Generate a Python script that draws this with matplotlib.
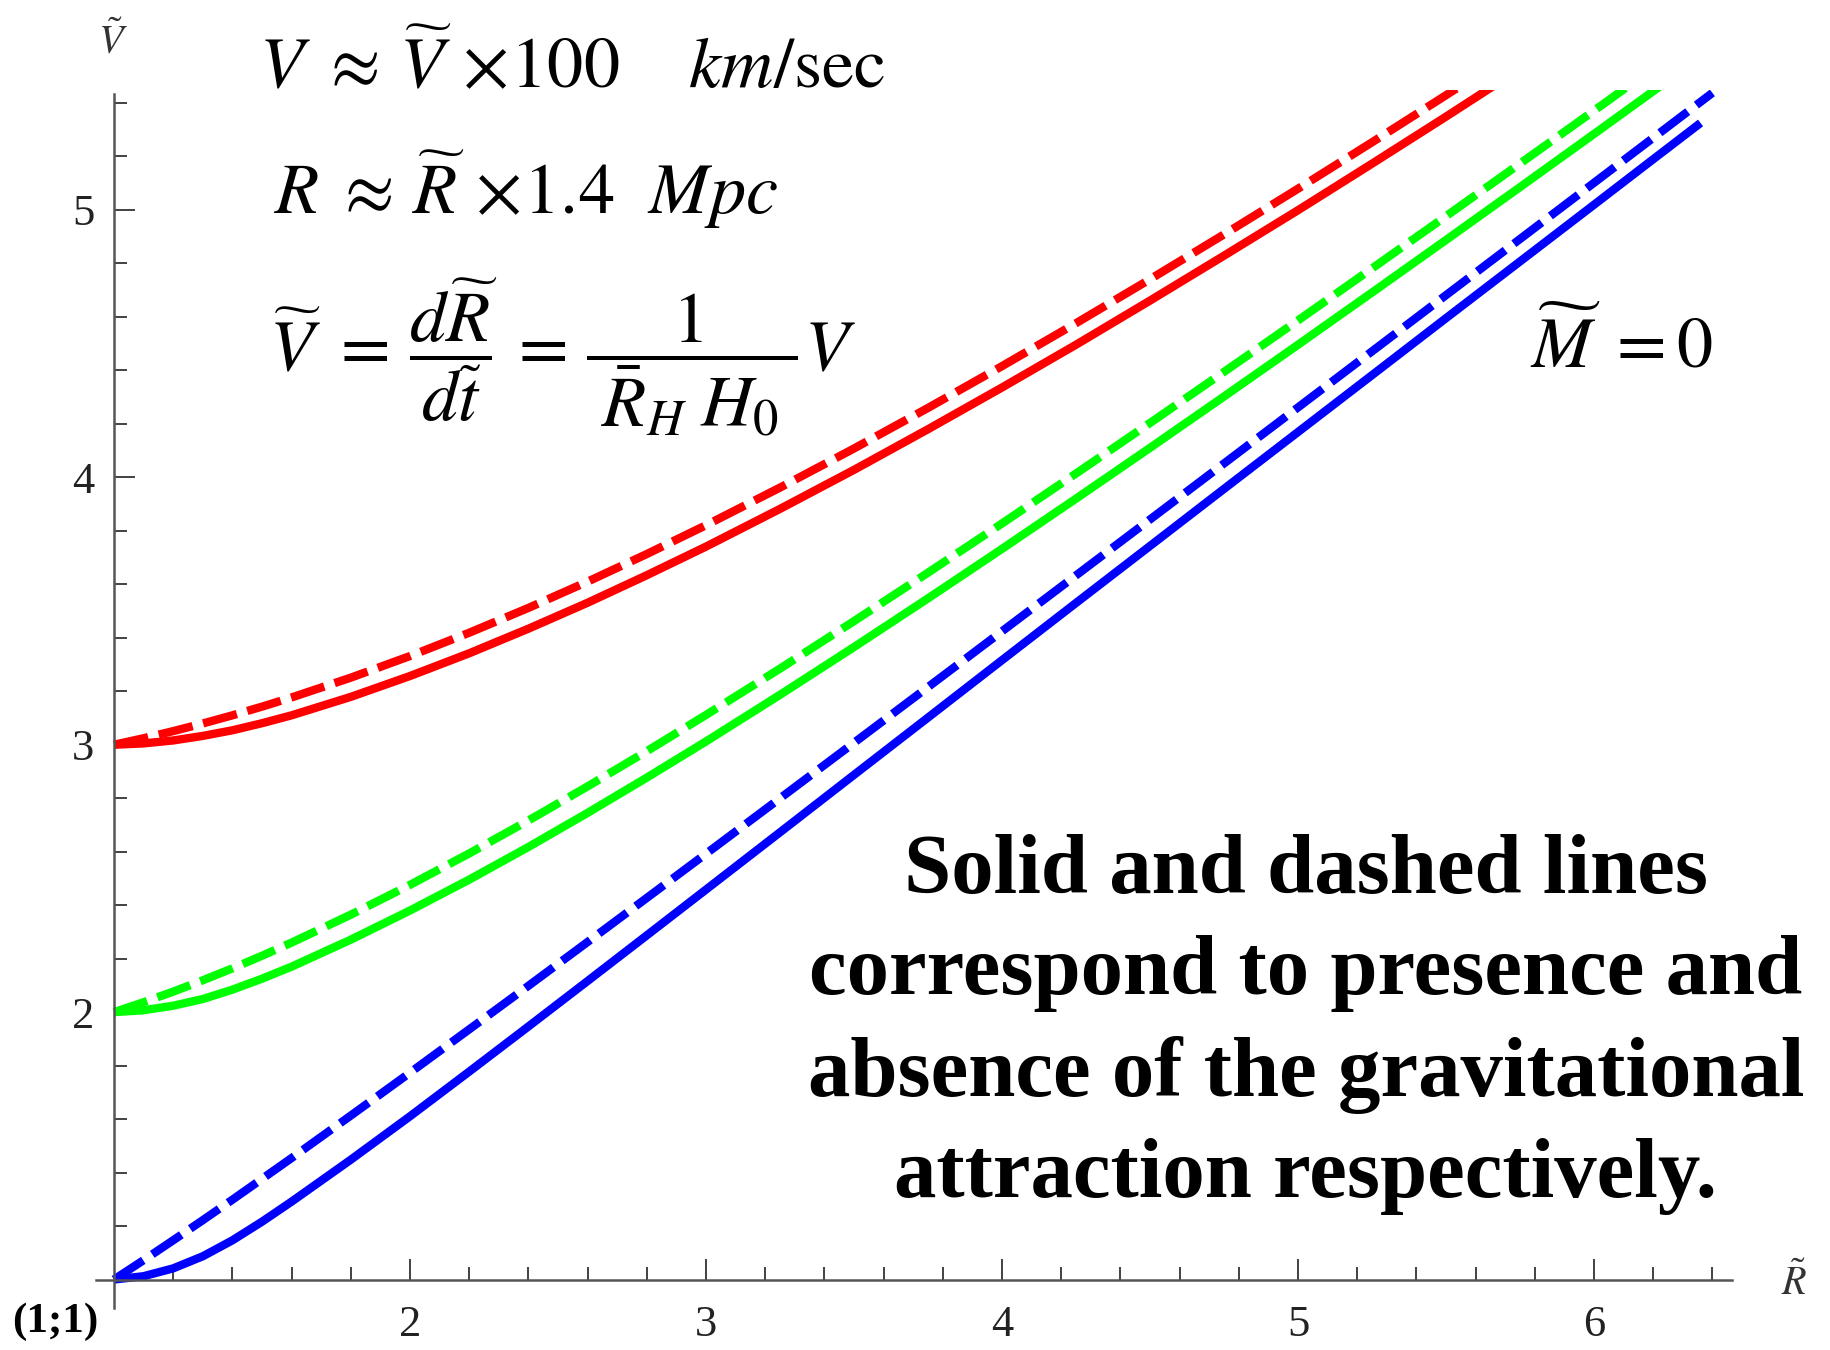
"""
V(R) curves, solid = with gravity, dashed = without
"""
import matplotlib
matplotlib.use("Agg")
import matplotlib.pyplot as plt
from matplotlib.ticker import FixedLocator

plt.rcParams['font.family'] = ['Liberation Serif', 'DejaVu Serif']
plt.rcParams['mathtext.fontset'] = 'stix'

# ========== data ==========
R = [1.0, 1.1, 1.2, 1.3, 1.4, 1.5, 1.6, 1.8, 2.0, 2.2, 2.4, 2.6, 2.8, 3.0,
     3.25, 3.5, 3.75, 4.0, 4.25, 4.5, 4.75, 5.0, 5.25, 5.5, 5.75, 6.0, 6.2, 6.4]
R_BLUE_SOLID = R[:-1] + [6.36]   # blue solid line stops a little earlier

red_solid = [3.0, 3.005, 3.016, 3.033, 3.054, 3.0805, 3.11, 3.179, 3.257, 3.342,
             3.434, 3.531, 3.634, 3.741, 3.882, 4.028, 4.18, 4.336, 4.496, 4.661,
             4.829, 4.999, 5.173, 5.349, 5.528, 5.708, 5.854, 6.0]
red_dashed = [3.0, 3.0244, 3.0509, 3.0795, 3.11, 3.1425, 3.1768, 3.2509, 3.3317, 3.4188,
              3.5117, 3.61, 3.7132, 3.821, 3.9616, 4.1079, 4.2596, 4.4159, 4.5764, 4.7408,
              4.9085, 5.0794, 5.253, 5.4291, 5.6075, 5.7879, 5.934, 6.08]
green_solid = [2.0, 2.007, 2.024, 2.049, 2.084, 2.125, 2.17, 2.271, 2.38, 2.4955,
               2.6176, 2.7452, 2.877, 3.0123, 3.1867, 3.3653, 3.5474, 3.7325, 3.9203, 4.1103,
               4.3023, 4.4959, 4.6912, 4.8877, 5.0854, 5.2842, 5.4441, 5.6046]
green_dashed = [2.0, 2.0369, 2.0766, 2.119, 2.1637, 2.2108, 2.26, 2.3644, 2.4759, 2.5935,
                2.7166, 2.8442, 2.976, 3.1113, 3.2847, 3.4623, 3.6434, 3.8275, 4.0143, 4.2033,
                4.3943, 4.5869, 4.7812, 4.9767, 5.1734, 5.3712, 5.5301, 5.6896]
blue_solid = [1.0, 1.0124, 1.0417, 1.0869, 1.1465, 1.2162, 1.2913, 1.4481, 1.6104, 1.7775,
              1.9463, 2.1163, 2.2871, 2.4583, 2.6725, 2.8873, 3.1016, 3.3162, 3.5302, 3.7434,
              3.9568, 4.1695, 4.3822, 4.5953, 4.8073, 5.0195, 5.1897, 5.3254]
blue_dashed = [1.0, 1.0724, 1.1467, 1.2219, 1.2985, 1.3762, 1.4543, 1.6131, 1.7734, 1.9355,
               2.0983, 2.2623, 2.4271, 2.5923, 2.7995, 3.0073, 3.2156, 3.4242, 3.6332, 3.8424,
               4.0518, 4.2615, 4.4712, 4.6813, 4.8913, 5.1015, 5.2697, 5.4379]

x_major = [2, 3, 4, 5, 6]
y_major = [2, 3, 4, 5]
x_minor = [round(1.2 + 0.2 * i, 1) for i in range(27)]
y_minor = [round(1.2 + 0.2 * i, 1) for i in range(22)]

notes = [
    'Solid and dashed lines',
    'correspond to presence and',
    'absence of the gravitational',
    'attraction respectively.',
]

# ========== figure ==========
W, H = 1831, 1350
fig = plt.figure(figsize=(W / 100, H / 100), dpi=100)
ax = fig.add_axes([0, 0, 1, 0.9336])
ax.set_xlim(0.6149, 6.8007)
ax.set_ylim(0.7364, 5.45)

lw = 6.0
dash = (4.2, 1.3)
curves = [
    (R, red_solid, '#ff0000', None),
    (R, red_dashed, '#ff0000', dash),
    (R, green_solid, '#00ff00', None),
    (R, green_dashed, '#00ff00', dash),
    (R_BLUE_SOLID, blue_solid, '#0000ff', None),
    (R, blue_dashed, '#0000ff', dash),
]
for xs, ys, c, d in curves:
    if d is None:
        ax.plot(xs, ys, color=c, lw=lw, solid_capstyle='butt', solid_joinstyle='round')
    else:
        ax.plot(xs, ys, color=c, lw=lw, dashes=d, dash_joinstyle='round')

# ========== axes crossing at (1;1) ==========
for s in ['top', 'right']:
    ax.spines[s].set_visible(False)
ax.spines['left'].set_position(('data', 1))
ax.spines['bottom'].set_position(('data', 1))
ax.spines['left'].set_bounds(0.893, 5.435)
ax.spines['bottom'].set_bounds(0.938, 6.466)
for s in ['left', 'bottom']:
    ax.spines[s].set_color('#555555')
    ax.spines[s].set_linewidth(1.8)

ax.xaxis.set_major_locator(FixedLocator(x_major))
ax.xaxis.set_minor_locator(FixedLocator([v for v in x_minor if v not in x_major]))
ax.yaxis.set_major_locator(FixedLocator(y_major))
ax.yaxis.set_minor_locator(FixedLocator([v for v in y_minor if v not in y_major]))
ax.xaxis.set_ticks_position('bottom')
ax.yaxis.set_ticks_position('left')
ax.tick_params(which='major', direction='in', length=15, width=1.2,
               color='#222222', labelsize=32, labelcolor='#222222')
ax.tick_params(which='minor', direction='in', length=9.5, width=1.2,
               color='#222222')
ax.tick_params(axis='x', which='major', pad=18)
ax.tick_params(axis='y', which='major', pad=14)

# axis names
ax.text(0.997, 5.55, r'$\tilde{V}$', fontsize=29, ha='center', va='bottom',
        color='#333333')
ax.text(6.675, 0.985, r'$\tilde{R}$', fontsize=29, ha='center', va='center',
        color='#333333')
fig.text(12 / W, 1 - 1322 / H, '(1;1)', fontsize=31, fontweight='bold',
         ha='left', va='center')

# ========== formulas ==========
fig.text(259 / W, 1 - 88 / H,
         r'$V\ \approx\,\widetilde{V}\,\times\!100\quad\ km/\mathrm{sec}$',
         fontsize=52, ha='left', va='baseline')
fig.text(274 / W, 1 - 214 / H,
         r'$R\;\approx\,\widetilde{R}\,\times\!1.4\ \ Mpc$',
         fontsize=52, ha='left', va='baseline')
fig.text(269 / W, 1 - 371 / H,
         r'$\widetilde{V}\ =\,\dfrac{d\widetilde{R}}{d\widetilde{t}}\,=\,'
         r'\dfrac{1}{\;\bar{R}_H\;H_0\;}V$',
         fontsize=52, ha='left', va='baseline')
fig.text(1530 / W, 1 - 368 / H, r'$\widetilde{M}\;=0$',
         fontsize=52, ha='left', va='baseline')

# ========== note ==========
for i, line in enumerate(notes):
    fig.text(1306 / W, 1 - (893 + 101.3 * i) / H, line, fontsize=61,
             fontweight='bold', ha='center', va='baseline')

plt.savefig('out.png', dpi=100, facecolor='white')
